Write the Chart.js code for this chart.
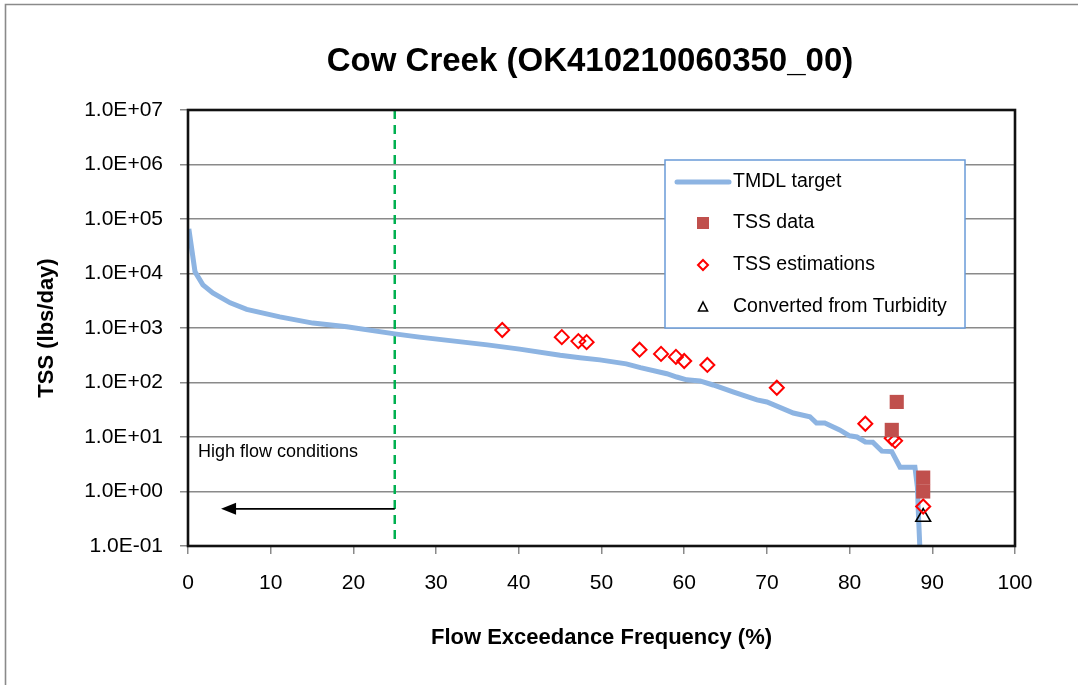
<!DOCTYPE html>
<html>
<head>
<meta charset="utf-8">
<title>Cow Creek TSS load duration</title>
<script src="https://cdn.jsdelivr.net/npm/chart.js@4.4.1/dist/chart.umd.min.js"></script>
<style>
  html, body { margin: 0; padding: 0; background: #fff; }
  #wrap { position: relative; width: 1078px; height: 685px; }
</style>
</head>
<body>
<div id="wrap"><canvas id="ldc"></canvas></div>
<script>
// TMDL target curve (flow exceedance %, lbs/day)
const curveFlow = [0.1, 0.85, 1.8, 3.0, 5.1, 7.1, 11.1, 15.1, 19.2, 25, 28, 36.2, 40.1, 45, 47.4, 49.8, 53, 54.7, 57.9, 59.1,
  60.3, 61.9, 63.5, 65.9, 68.8, 70, 73.2, 75.2, 76, 77, 78.8, 80, 80.9, 81.9, 82.8, 83.9, 85.1, 86.1, 87.9, 88.2, 88.3, 88.5];
const curveLoad = [66000, 10700, 6200, 4400, 2900, 2200, 1600, 1230, 1050, 780, 680, 490, 410, 315, 285, 260, 220, 187, 145, 126,
  112, 107, 90, 67, 48, 44, 27.5, 23.5, 18, 18, 13.5, 10.5, 10, 8.1, 8, 5.5, 5.4, 2.8, 2.8, 1.2, 0.46, 0.09];

// measured TSS
const tssFlow = [85.7, 85.1, 88.9, 88.9];
const tssLoad = [44, 13.5, 1.8, 1.0];

// estimated TSS
const estFlow = [38.0, 45.2, 47.2, 48.2, 54.6, 57.2, 59.0, 60.0, 62.8, 71.2, 81.9, 85.1, 85.5, 88.9];
const estLoad = [920, 680, 575, 550, 400, 335, 295, 248, 210, 80, 17.5, 9.5, 8.5, 0.53];

// TSS converted from turbidity
const turbFlow = [88.9];
const turbLoad = [0.34];

const yExponents = [-1, 0, 1, 2, 3, 4, 5, 6, 7];
const xTicks = [0, 10, 20, 30, 40, 50, 60, 70, 80, 90, 100];

// high flow zone marker
const highFlowLimit = 25;
const arrowTo = 4;
const arrowLevel = 0.48;
const noteFlow = 1.2;
const noteLevel = 5.3;

const FONT = "'Liberation Sans', Arial, sans-serif";
const chartTitle = "Cow Creek (OK410210060350_00)";

function pairs(xs, ys) {
  return xs.map((x, i) => ({ x: x, y: ys[i] }));
}

function sciLabel(v) {
  const e = Math.round(Math.log10(v));
  return "1.0E" + (e < 0 ? "-" : "+") + String(Math.abs(e)).padStart(2, "0");
}

// frame, title, plot border, high-flow marker and the boxed legend
const extras = {
  id: "extras",
  beforeDraw(chart) {
    const c = chart.ctx;
    c.save();
    c.strokeStyle = "#8a8a8a";
    c.lineWidth = 1.6;
    c.beginPath();
    c.moveTo(5.5, 685);
    c.lineTo(5.5, 4.5);
    c.lineTo(1078, 4.5);
    c.stroke();

    c.font = "bold 33px " + FONT;
    c.fillStyle = "#000";
    c.textAlign = "center";
    c.textBaseline = "middle";
    c.fillText(chartTitle, 590, 62);
    c.restore();
  },
  beforeDatasetsDraw(chart) {
    const c = chart.ctx;
    const a = chart.chartArea;
    const xs = chart.scales.x, ys = chart.scales.y;
    c.save();
    // dashed boundary
    const bx = xs.getPixelForValue(highFlowLimit);
    c.strokeStyle = "#00B050";
    c.lineWidth = 2.5;
    c.setLineDash([9, 6]);
    c.beginPath();
    c.moveTo(bx, a.top);
    c.lineTo(bx, a.bottom);
    c.stroke();
    c.setLineDash([]);
    // arrow
    const ay = ys.getPixelForValue(arrowLevel);
    const tip = xs.getPixelForValue(arrowTo);
    c.strokeStyle = "#000";
    c.lineWidth = 1.6;
    c.beginPath();
    c.moveTo(bx, ay);
    c.lineTo(tip + 12, ay);
    c.stroke();
    c.fillStyle = "#000";
    c.beginPath();
    c.moveTo(tip, ay);
    c.lineTo(tip + 15, ay - 6);
    c.lineTo(tip + 15, ay + 6);
    c.closePath();
    c.fill();
    // note
    c.font = "18px " + FONT;
    c.textBaseline = "middle";
    c.fillStyle = "#000";
    c.fillText("High flow conditions", xs.getPixelForValue(noteFlow), ys.getPixelForValue(noteLevel));
    c.restore();
  },
  afterDraw(chart) {
    const c = chart.ctx;
    const a = chart.chartArea;
    c.save();
    c.strokeStyle = "#111";
    c.lineWidth = 2.6;
    c.strokeRect(a.left, a.top, a.right - a.left, a.bottom - a.top);

    // legend box
    const lx = 665, ly = 160, lw = 300, lh = 168;
    c.fillStyle = "#fff";
    c.fillRect(lx, ly, lw, lh);
    c.strokeStyle = "#6A9BD8";
    c.lineWidth = 1.5;
    c.strokeRect(lx, ly, lw, lh);

    const rows = [182, 223, 265, 307];
    const mx = 703, tx = 733;
    c.lineCap = "round";
    c.strokeStyle = "#8DB4E2";
    c.lineWidth = 5;
    c.beginPath();
    c.moveTo(677, rows[0]);
    c.lineTo(729, rows[0]);
    c.stroke();
    c.lineCap = "butt";

    c.fillStyle = "#C0504D";
    c.fillRect(mx - 6, rows[1] - 6, 12, 12);

    c.strokeStyle = "#FF0000";
    c.lineWidth = 2;
    c.beginPath();
    c.moveTo(mx, rows[2] - 5);
    c.lineTo(mx + 5, rows[2]);
    c.lineTo(mx, rows[2] + 5);
    c.lineTo(mx - 5, rows[2]);
    c.closePath();
    c.stroke();

    c.strokeStyle = "#000";
    c.lineWidth = 1.6;
    c.beginPath();
    c.moveTo(mx, rows[3] - 5);
    c.lineTo(mx + 4.5, rows[3] + 4);
    c.lineTo(mx - 4.5, rows[3] + 4);
    c.closePath();
    c.stroke();

    c.font = "19.5px " + FONT;
    c.fillStyle = "#000";
    c.textBaseline = "middle";
    ["TMDL target", "TSS data", "TSS estimations", "Converted from Turbidity"].forEach((t, i) => {
      c.fillText(t, tx, rows[i]);
    });
    c.restore();
  }
};

new Chart(document.getElementById("ldc"), {
  type: "scatter",
  data: {
    datasets: [
      {
        label: "TMDL target",
        type: "line",
        data: pairs(curveFlow, curveLoad),
        borderColor: "#8DB4E2",
        borderWidth: 5,
        pointRadius: 0,
        tension: 0,
        order: 1
      },
      {
        label: "TSS data",
        data: pairs(tssFlow, tssLoad),
        pointStyle: "rect",
        pointRadius: 10,
        backgroundColor: "#C0504D",
        borderColor: "#C0504D",
        borderWidth: 0,
        order: 0
      },
      {
        label: "TSS estimations",
        data: pairs(estFlow, estLoad),
        pointStyle: "rectRot",
        pointRadius: 7,
        backgroundColor: "rgba(255,255,255,0)",
        borderColor: "#FF0000",
        borderWidth: 2,
        order: 0
      },
      {
        label: "Converted from Turbidity",
        data: pairs(turbFlow, turbLoad),
        pointStyle: "triangle",
        pointRadius: 8.5,
        backgroundColor: "rgba(255,255,255,0)",
        borderColor: "#000",
        borderWidth: 1.6,
        order: 0
      }
    ]
  },
  options: {
    responsive: true,
    maintainAspectRatio: false,
    animation: false,
    layout: { padding: { left: 0, right: 63, top: 110, bottom: 0 } },
    plugins: {
      legend: { display: false },
      tooltip: { enabled: false }
    },
    scales: {
      x: {
        type: "linear",
        min: 0,
        max: 100,
        afterFit(s) { s.height = 139; },
        afterBuildTicks(s) { s.ticks = xTicks.map(v => ({ value: v })); },
        ticks: { color: "#000", padding: 17, font: { family: FONT, size: 21 } },
        grid: { drawOnChartArea: false, drawTicks: true, tickLength: 8, color: "#8a8a8a", lineWidth: 1.5 },
        border: { display: false },
        title: {
          display: true,
          text: "Flow Exceedance Frequency (%)",
          color: "#000",
          font: { family: FONT, size: 22, weight: "bold" },
          padding: { top: 0, bottom: 34 }
        }
      },
      y: {
        type: "logarithmic",
        min: 0.1,
        max: 1e7,
        afterFit(s) { s.width = 188; },
        afterBuildTicks(s) { s.ticks = yExponents.map(e => ({ value: Math.pow(10, e) })); },
        ticks: { color: "#000", padding: 17, font: { family: FONT, size: 21 }, callback: v => sciLabel(v) },
        grid: { color: "#8a8a8a", lineWidth: 1.5, tickLength: 8 },
        border: { display: false },
        title: {
          display: true,
          text: "TSS (lbs/day)",
          color: "#000",
          font: { family: FONT, size: 22, weight: "bold" },
          padding: { top: 34, bottom: 0 }
        }
      }
    }
  },
  plugins: [extras]
});
</script>
</body>
</html>
